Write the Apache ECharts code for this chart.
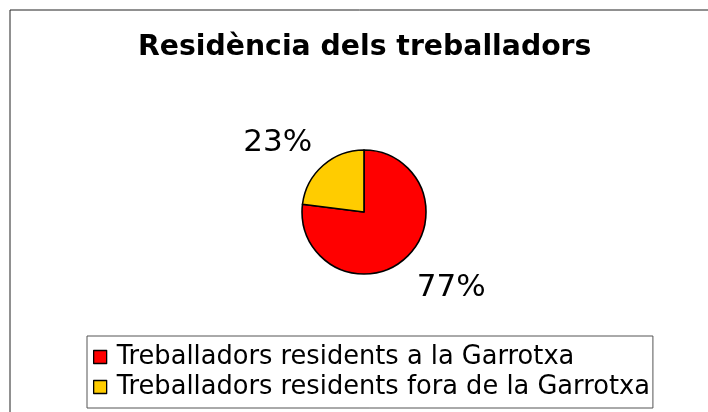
<!DOCTYPE html>
<html>
<head>
<meta charset="utf-8">
<script src="https://cdn.jsdelivr.net/npm/echarts@6/dist/echarts.min.js"></script>
<style>
html,body{margin:0;padding:0;background:#fff;}
#chart{width:708px;height:412px;}
</style>
</head>
<body>
<div id="chart"></div>
<script>
var titleText = 'Residència dels treballadors';
var categories = ['Treballadors residents a la Garrotxa', 'Treballadors residents fora de la Garrotxa'];
var values = [77, 23];
var colors = ['#ff0000', '#ffcc00'];

var labelLen = [39, 30];
var labelDist = [-14, -9];

var chart = echarts.init(document.getElementById('chart'));
var data = categories.map(function (c, i) {
  return {
    name: c, value: values[i],
    itemStyle: { color: colors[i] },
    label: { distanceToLabelLine: labelDist[i] },
    labelLine: { length: labelLen[i] }
  };
});
chart.setOption({
  animation: false,
  backgroundColor: '#ffffff',
  graphic: [{
    type: 'rect',
    shape: { x: 10, y: 10, width: 720, height: 430 },
    style: { fill: 'none', stroke: '#222222', lineWidth: 1 },
    silent: true,
    z: -1
  }],
  title: {
    text: titleText,
    left: 138,
    top: 34,
    padding: 0,
    textStyle: { fontFamily: 'DejaVu Sans', fontWeight: 'bold', fontSize: 28.3, color: '#000' }
  },
  legend: {
    orient: 'vertical',
    left: 87,
    top: 336,
    padding: [8, 3, 8, 6],
    itemGap: 4,
    itemWidth: 13,
    itemHeight: 13,
    icon: 'rect',
    borderColor: '#555555',
    borderWidth: 1,
    selectedMode: false,
    itemStyle: { borderColor: '#000', borderWidth: 1.3 },
    textStyle: { fontFamily: 'DejaVu Sans', fontSize: 25.7, lineHeight: 25, color: '#000', padding: [0, 0, 0, 5] },
    data: categories
  },
  series: [{
    type: 'pie',
    center: [364, 212],
    radius: 62,
    startAngle: 90,
    clockwise: true,
    avoidLabelOverlap: false,
    itemStyle: { borderColor: '#000', borderWidth: 1.6 },
    label: {
      show: true,
      position: 'outside',
      formatter: function (p) { return Math.round(p.percent) + '%'; },
      fontFamily: 'DejaVu Sans',
      fontSize: 31,
      color: '#000'
    },
    labelLine: { show: false, length2: 0 },
    emphasis: { disabled: true },
    data: data
  }]
});
</script>
</body>
</html>
